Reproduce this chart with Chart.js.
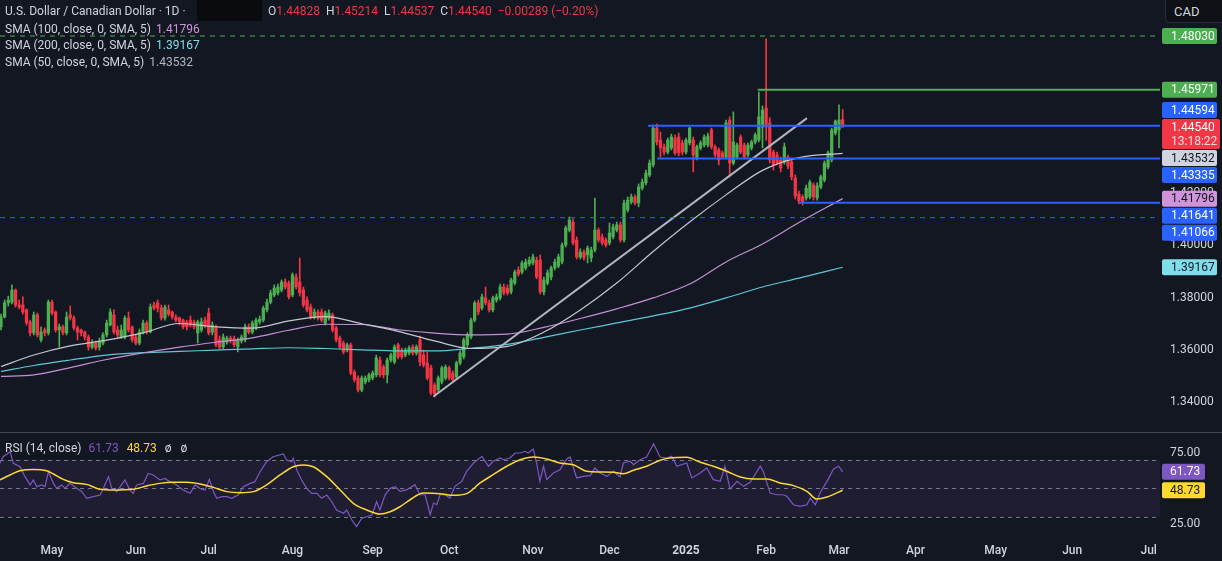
<!DOCTYPE html>
<html lang="en">
<head>
  <meta charset="UTF-8" />
  <title>USD/CAD 1D</title>
  <script src="https://cdn.jsdelivr.net/npm/chart.js"></script>
  <style>
    body { margin: 0; background: #131722; font-family: Roboto, sans-serif; }
    .wrap { position: relative; width: 1222px; height: 561px; overflow: hidden; background: #131722; }
    canvas { position: absolute; left: 0; }
    #priceChart { top: 0; }
    #rsiChart { top: 433px; }
    .sep { position: absolute; left: 0; top: 432px; width: 1222px; height: 1px; background: #434651; }
    .lg { position: absolute; left: 5px; font-size: 12px; line-height: 16px; color: #d1d4dc; white-space: nowrap; }
    .lg span.v { margin-left: 5px; }
    .red { color: #f23645; }
    .ohlc { position: absolute; left: 268px; top: 3px; font-size: 12px; line-height: 16px; color: #d1d4dc; white-space: nowrap; }
    .ohlc b { font-weight: normal; margin-right: 6px; }
    .blk { position: absolute; left: 197px; top: 0; width: 65px; height: 21px; background: #0a0b0e; }
    .cad { position: absolute; left: 1165px; top: -1px; width: 60px; height: 24px; box-sizing: border-box;
           border: 1px solid #2a2e39; border-radius: 0 0 0 4px; background: #0e1015;
           color: #d1d4dc; font-size: 13px; line-height: 23px; padding-left: 8px; }
  </style>
</head>
<body>
<div class="wrap">
  <canvas id="priceChart" width="1222" height="432"></canvas>
  <div class="sep"></div>
  <canvas id="rsiChart" width="1222" height="128"></canvas>

  <div class="lg" style="top:3px">U.S. Dollar / Canadian Dollar · 1D ·</div>
  <div class="blk"></div>
  <div class="ohlc">
    <b>O<span class="red">1.44828</span></b><b>H<span class="red">1.45214</span></b><b>L<span class="red">1.44537</span></b><b>C<span class="red">1.44540</span></b><b class="red">−0.00289 (−0.20%)</b>
  </div>
  <div class="lg" style="top:20.5px">SMA (100, close, 0, SMA, 5)<span class="v" style="color:#ce93d8">1.41796</span></div>
  <div class="lg" style="top:37px">SMA (200, close, 0, SMA, 5)<span class="v" style="color:#80deea">1.39167</span></div>
  <div class="lg" style="top:53.5px">SMA (50, close, 0, SMA, 5)<span class="v" style="color:#b2b5be">1.43532</span></div>
  <div class="lg" style="top:440px">RSI (14, close)<span class="v" style="color:#7e57c2;margin-left:7px">61.73</span><span class="v" style="color:#fdd835;margin-left:8px">48.73</span><span class="v" style="margin-left:8px">ø</span><span class="v" style="margin-left:9px">ø</span></div>
  <div class="cad">CAD</div>
</div>

<script>
// ---- data (bar index 0 = 1 May 2024, daily bars, Dec 25 / Jan 1 skipped) ----
const BAR0 = -14;
const X_MIN = -14.27, X_MAX = 304.1;

const opens = [
  1.3688, 1.3726, 1.3780, 1.3783, 1.3829, 1.3772, 1.3772, 1.3753, 1.3707, 1.3665,
  1.3734, 1.3638, 1.3676, 1.3665, 1.3783, 1.3745, 1.3676, 1.3688, 1.3665, 1.3734,
  1.3722, 1.3684, 1.3676, 1.3668, 1.3649, 1.3611, 1.3626, 1.3611, 1.3626, 1.3657,
  1.3695, 1.3734, 1.3676, 1.3645, 1.3649, 1.3722, 1.3688, 1.3649, 1.3626, 1.3668,
  1.3703, 1.3668, 1.3772, 1.3780, 1.3760, 1.3722, 1.3753, 1.3745, 1.3726, 1.3722,
  1.3714, 1.3707, 1.3714, 1.3707, 1.3665, 1.3676, 1.3714, 1.3741, 1.3668, 1.3684,
  1.3638, 1.3611, 1.3630, 1.3645, 1.3642, 1.3611, 1.3634, 1.3638, 1.3688, 1.3668,
  1.3684, 1.3707, 1.3714, 1.3753, 1.3783, 1.3810, 1.3818, 1.3829, 1.3860, 1.3856,
  1.3810, 1.3879, 1.3860, 1.3829, 1.3791, 1.3764, 1.3726, 1.3745, 1.3745, 1.3703,
  1.3722, 1.3734, 1.3684, 1.3645, 1.3626, 1.3599, 1.3619, 1.3515, 1.3492, 1.3446,
  1.3477, 1.3485, 1.3492, 1.3504, 1.3561, 1.3534, 1.3504, 1.3561, 1.3554, 1.3619,
  1.3599, 1.3580, 1.3588, 1.3611, 1.3588, 1.3638, 1.3580, 1.3550, 1.3531, 1.3465,
  1.3446, 1.3477, 1.3492, 1.3531, 1.3511, 1.3496, 1.3550, 1.3573, 1.3619, 1.3649,
  1.3714, 1.3780, 1.3760, 1.3799, 1.3780, 1.3753, 1.3791, 1.3799, 1.3841, 1.3837,
  1.3822, 1.3856, 1.3906, 1.3898, 1.3914, 1.3929, 1.3933, 1.3944, 1.3944, 1.3822,
  1.3856, 1.3879, 1.3914, 1.3921, 1.3937, 1.4002, 1.4059, 1.4090, 1.4021, 1.3956,
  1.3975, 1.3964, 1.3952, 1.3983, 1.4059, 1.4033, 1.4021, 1.4010, 1.4033, 1.4059,
  1.4079, 1.4021, 1.4136, 1.4167, 1.4186, 1.4163, 1.4220, 1.4240, 1.4270, 1.4309,
  1.4450, 1.4404, 1.4378, 1.4358, 1.4374, 1.4412, 1.4416, 1.4393, 1.4358, 1.4393,
  1.4404, 1.4335, 1.4374, 1.4385, 1.4385, 1.4443, 1.4378, 1.4366, 1.4355, 1.4339,
  1.4481, 1.4316, 1.4339, 1.4416, 1.4385, 1.4347, 1.4374, 1.4397, 1.4404, 1.4454,
  1.4527, 1.4470, 1.4358, 1.4347, 1.4328, 1.4320, 1.4339, 1.4320, 1.4259, 1.4197,
  1.4186, 1.4182, 1.4186, 1.4232, 1.4182, 1.4224, 1.4251, 1.4301, 1.4328, 1.4431,
  1.4443, 1.44828
];
const highs = [
  1.3737, 1.3791, 1.3806, 1.3849, 1.3833, 1.3791, 1.3803, 1.3757, 1.3714, 1.3745,
  1.3741, 1.3688, 1.3684, 1.3791, 1.3791, 1.3749, 1.3699, 1.3695, 1.3745, 1.3768,
  1.3730, 1.3691, 1.3680, 1.3672, 1.3657, 1.3638, 1.3634, 1.3645, 1.3665, 1.3714,
  1.3757, 1.3753, 1.3691, 1.3695, 1.3730, 1.3745, 1.3691, 1.3657, 1.3680, 1.3714,
  1.3711, 1.3776, 1.3783, 1.3791, 1.3772, 1.3772, 1.3772, 1.3749, 1.3734, 1.3726,
  1.3718, 1.3714, 1.3730, 1.3714, 1.3714, 1.3722, 1.3726, 1.3760, 1.3707, 1.3695,
  1.3653, 1.3661, 1.3653, 1.3653, 1.3653, 1.3645, 1.3657, 1.3699, 1.3699, 1.3711,
  1.3722, 1.3730, 1.3768, 1.3795, 1.3829, 1.3849, 1.3852, 1.3868, 1.3872, 1.3864,
  1.3895, 1.3891, 1.3952, 1.3841, 1.3803, 1.3776, 1.3757, 1.3753, 1.3757, 1.3749,
  1.3753, 1.3741, 1.3691, 1.3653, 1.3634, 1.3626, 1.3626, 1.3523, 1.3500, 1.3500,
  1.3500, 1.3511, 1.3519, 1.3580, 1.3573, 1.3542, 1.3569, 1.3588, 1.3619, 1.3626,
  1.3607, 1.3607, 1.3615, 1.3619, 1.3619, 1.3653, 1.3599, 1.3592, 1.3542, 1.3473,
  1.3500, 1.3538, 1.3542, 1.3538, 1.3519, 1.3557, 1.3596, 1.3645, 1.3665, 1.3722,
  1.3787, 1.3791, 1.3814, 1.3841, 1.3791, 1.3806, 1.3814, 1.3852, 1.3852, 1.3849,
  1.3875, 1.3906, 1.3918, 1.3941, 1.3948, 1.3956, 1.3967, 1.3956, 1.3964, 1.3879,
  1.3906, 1.3921, 1.3948, 1.3967, 1.4010, 1.4075, 1.4109, 1.4102, 1.4033, 1.3987,
  1.3983, 1.3998, 1.3994, 1.4182, 1.4067, 1.4044, 1.4029, 1.4086, 1.4082, 1.4090,
  1.4090, 1.4174, 1.4186, 1.4197, 1.4194, 1.4236, 1.4255, 1.4289, 1.4328, 1.4462,
  1.4466, 1.4435, 1.4389, 1.4412, 1.4427, 1.4424, 1.4431, 1.4404, 1.4412, 1.4454,
  1.4416, 1.4385, 1.4401, 1.4424, 1.4431, 1.4450, 1.4385, 1.4374, 1.4362, 1.4481,
  1.4493, 1.4512, 1.4393, 1.4424, 1.4393, 1.4393, 1.4404, 1.4431, 1.4588, 1.4535,
  1.4792, 1.4490, 1.4366, 1.4358, 1.4339, 1.4393, 1.4347, 1.4335, 1.4270, 1.4209,
  1.4194, 1.4232, 1.4251, 1.4240, 1.4240, 1.4270, 1.4324, 1.4362, 1.4450, 1.4481,
  1.4539, 1.45214
];
const lows = [
  1.3676, 1.3722, 1.3768, 1.3776, 1.3764, 1.3757, 1.3737, 1.3695, 1.3653, 1.3657,
  1.3649, 1.3630, 1.3653, 1.3657, 1.3734, 1.3668, 1.3611, 1.3657, 1.3657, 1.3714,
  1.3676, 1.3638, 1.3653, 1.3638, 1.3599, 1.3603, 1.3599, 1.3599, 1.3619, 1.3649,
  1.3691, 1.3661, 1.3645, 1.3645, 1.3642, 1.3668, 1.3630, 1.3619, 1.3619, 1.3661,
  1.3661, 1.3665, 1.3753, 1.3745, 1.3714, 1.3714, 1.3730, 1.3718, 1.3707, 1.3695,
  1.3680, 1.3676, 1.3688, 1.3680, 1.3626, 1.3668, 1.3684, 1.3657, 1.3657, 1.3611,
  1.3603, 1.3603, 1.3622, 1.3626, 1.3611, 1.3592, 1.3626, 1.3630, 1.3661, 1.3661,
  1.3676, 1.3699, 1.3707, 1.3745, 1.3776, 1.3803, 1.3810, 1.3822, 1.3833, 1.3795,
  1.3803, 1.3833, 1.3806, 1.3764, 1.3745, 1.3718, 1.3718, 1.3714, 1.3707, 1.3695,
  1.3714, 1.3668, 1.3630, 1.3603, 1.3584, 1.3592, 1.3504, 1.3477, 1.3439, 1.3439,
  1.3469, 1.3477, 1.3485, 1.3496, 1.3496, 1.3492, 1.3473, 1.3554, 1.3546, 1.3565,
  1.3565, 1.3573, 1.3580, 1.3580, 1.3580, 1.3538, 1.3534, 1.3485, 1.3427, 1.3419,
  1.3439, 1.3469, 1.3485, 1.3485, 1.3477, 1.3488, 1.3542, 1.3565, 1.3611, 1.3642,
  1.3707, 1.3734, 1.3753, 1.3772, 1.3745, 1.3745, 1.3783, 1.3791, 1.3810, 1.3810,
  1.3814, 1.3849, 1.3883, 1.3891, 1.3906, 1.3921, 1.3925, 1.3872, 1.3814, 1.3810,
  1.3849, 1.3868, 1.3906, 1.3914, 1.3929, 1.3994, 1.4052, 1.4002, 1.3948, 1.3948,
  1.3944, 1.3933, 1.3937, 1.3975, 1.4013, 1.4002, 1.3994, 1.4002, 1.4025, 1.4052,
  1.4013, 1.4013, 1.4128, 1.4159, 1.4155, 1.4148, 1.4213, 1.4232, 1.4263, 1.4301,
  1.4385, 1.4339, 1.4347, 1.4351, 1.4366, 1.4347, 1.4343, 1.4347, 1.4351, 1.4385,
  1.4282, 1.4328, 1.4366, 1.4378, 1.4378, 1.4370, 1.4339, 1.4309, 1.4332, 1.4332,
  1.4263, 1.4309, 1.4332, 1.4351, 1.4332, 1.4339, 1.4366, 1.4389, 1.4397, 1.4374,
  1.4404, 1.4316, 1.4289, 1.4309, 1.4282, 1.4312, 1.4293, 1.4251, 1.4178, 1.4159,
  1.4155, 1.4174, 1.4178, 1.4174, 1.4174, 1.4217, 1.4243, 1.4293, 1.4320, 1.4424,
  1.4374, 1.44537
];
const closes = [
  1.3726, 1.3780, 1.3791, 1.3829, 1.3772, 1.3764, 1.3745, 1.3703, 1.3665, 1.3734,
  1.3657, 1.3668, 1.3665, 1.3783, 1.3741, 1.3676, 1.3688, 1.3665, 1.3726, 1.3722,
  1.3684, 1.3668, 1.3665, 1.3649, 1.3611, 1.3626, 1.3607, 1.3630, 1.3657, 1.3703,
  1.3745, 1.3668, 1.3657, 1.3676, 1.3722, 1.3676, 1.3638, 1.3626, 1.3668, 1.3703,
  1.3668, 1.3764, 1.3760, 1.3760, 1.3722, 1.3764, 1.3737, 1.3726, 1.3714, 1.3707,
  1.3688, 1.3688, 1.3695, 1.3688, 1.3707, 1.3707, 1.3695, 1.3665, 1.3695, 1.3619,
  1.3611, 1.3649, 1.3645, 1.3638, 1.3619, 1.3638, 1.3649, 1.3688, 1.3668, 1.3703,
  1.3714, 1.3718, 1.3760, 1.3783, 1.3818, 1.3837, 1.3841, 1.3860, 1.3841, 1.3803,
  1.3887, 1.3841, 1.3818, 1.3772, 1.3753, 1.3726, 1.3745, 1.3722, 1.3714, 1.3741,
  1.3741, 1.3676, 1.3638, 1.3611, 1.3592, 1.3619, 1.3511, 1.3485, 1.3446, 1.3492,
  1.3492, 1.3504, 1.3511, 1.3569, 1.3504, 1.3504, 1.3561, 1.3580, 1.3611, 1.3573,
  1.3573, 1.3599, 1.3607, 1.3588, 1.3611, 1.3554, 1.3542, 1.3492, 1.3435, 1.3431,
  1.3492, 1.3531, 1.3534, 1.3492, 1.3485, 1.3550, 1.3588, 1.3638, 1.3657, 1.3714,
  1.3780, 1.3745, 1.3803, 1.3780, 1.3753, 1.3799, 1.3803, 1.3841, 1.3818, 1.3818,
  1.3868, 1.3898, 1.3891, 1.3933, 1.3937, 1.3944, 1.3956, 1.3879, 1.3822, 1.3868,
  1.3895, 1.3914, 1.3937, 1.3956, 1.4002, 1.4067, 1.4098, 1.4010, 1.3956, 1.3975,
  1.3952, 1.3990, 1.3983, 1.4059, 1.4021, 1.4010, 1.4002, 1.4048, 1.4071, 1.4079,
  1.4021, 1.4163, 1.4174, 1.4186, 1.4163, 1.4224, 1.4243, 1.4278, 1.4316, 1.4450,
  1.4397, 1.4374, 1.4358, 1.4404, 1.4416, 1.4355, 1.4355, 1.4358, 1.4404, 1.4450,
  1.4347, 1.4378, 1.4393, 1.4416, 1.4420, 1.4378, 1.4347, 1.4328, 1.4339, 1.4470,
  1.4316, 1.4397, 1.4385, 1.4358, 1.4339, 1.4385, 1.4397, 1.4424, 1.4493, 1.4519,
  1.4454, 1.4328, 1.4309, 1.4316, 1.4297, 1.4378, 1.4305, 1.4263, 1.4190, 1.4171,
  1.4167, 1.4220, 1.4243, 1.4186, 1.4228, 1.4263, 1.4316, 1.4355, 1.4443, 1.4477,
  1.4481, 1.44540
];

// moving averages every ~10 bars
const smaX   = [-14, -5, 5, 15, 25, 35, 45, 55, 65, 75, 85, 95, 105, 115, 125, 135, 145, 155, 165, 175, 185, 195, 205, 217];
const sma50  = [1.3536, 1.3580, 1.3615, 1.3637, 1.3665, 1.3701, 1.3688, 1.3683, 1.3711, 1.3727, 1.3700, 1.3671,
                1.3634, 1.3605, 1.3613, 1.3668, 1.3753, 1.3856, 1.3977, 1.4090, 1.4194, 1.4288, 1.4337, 1.43532];
const sma100 = [1.3498, 1.3504, 1.3532, 1.3563, 1.3588, 1.3610, 1.3629, 1.3646, 1.3675, 1.3698, 1.3697, 1.3677,
                1.3664, 1.3657, 1.3660, 1.3686, 1.3720, 1.3757, 1.3799, 1.3852, 1.3937, 1.4006, 1.4088, 1.41796];
const sma200 = [1.3517, 1.3540, 1.3561, 1.3580, 1.3589, 1.3594, 1.3599, 1.3604, 1.3608, 1.3605, 1.3600, 1.3596,
                1.3596, 1.3606, 1.3621, 1.3648, 1.3676, 1.3703, 1.3730, 1.3760, 1.3799, 1.3841, 1.3875, 1.39167];

// drawings
const levelValues = [1.48030, 1.45971, 1.44594, 1.43335, 1.41641, 1.41066];
const levelStarts = [X_MIN, 193.7, 163.6, 166.1, 205.1, X_MIN];
const trendX = [104.7, 207.2];
const trendY = [1.3421, 1.4488];

const rsiX = [-14.3, -13.4, -11.5, -10.6, -8.8, -7.4, -6.0, -5.1, -4.2, -2.8, -1.9, -1.0, 0.4, 1.3, 2.7, 3.6, 4.9, 6.8, 8.2, 9.5,
  11.3, 13.2, 14.1, 15.5, 16.4, 17.8, 20.0, 21.4, 22.3, 23.2, 25.1, 26.4, 27.8, 29.6, 31.0, 32.4, 34.2, 36.0, 37.9, 39.3,
  40.6, 42.0, 43.2, 44.3, 45.2, 46.6, 48.0, 49.3, 50.2, 51.1, 52.5, 54.4, 55.7, 57.1, 58.9, 60.7, 63.5, 64.4, 65.8, 66.2,
  67.2, 68.5, 69.9, 71.3, 72.7, 74.0, 75.4, 76.8, 78.1, 80.0, 80.9, 82.3, 83.6, 85.0, 86.4, 87.8, 89.1, 90.0, 91.4, 92.8,
  94.2, 95.5, 97.4, 99.6, 101.0, 102.4, 103.8, 104.7, 105.6, 106.5, 107.9, 109.2, 110.6, 112.5, 113.8, 115.7, 118.0, 119.8, 121.1, 123.0,
  123.9, 125.7, 127.1, 128.5, 129.8, 130.7, 132.1, 133.0, 133.9, 134.9, 135.8, 137.6, 139.4, 141.3, 142.2, 144.0, 145.8, 147.7, 149.0, 150.4,
  152.3, 154.1, 155.9, 156.8, 158.7, 159.6, 161.4, 163.2, 165.1, 166.9, 168.7, 170.1, 171.5, 174.2, 175.6, 177.9, 179.7, 181.5, 183.4, 184.7,
  186.1, 188.0, 189.8, 191.6, 194.4, 195.2, 197.1, 198.9, 200.7, 201.7, 203.5, 205.3, 207.2, 208.1, 209.5, 210.8, 212.7, 214.5, 215.9, 217];
const rsiVal = [67.7, 72.3, 75.8, 67.7, 65.3, 58.3, 52.5, 56.0, 51.3, 52.5, 51.3, 61.8, 53.6, 50.1, 52.5, 50.1, 53.6, 50.1, 47.8, 43.1,
  44.3, 45.4, 50.1, 58.3, 50.1, 47.8, 56.0, 48.9, 46.6, 52.5, 53.6, 60.6, 59.5, 56.0, 57.1, 54.8, 52.5, 48.9, 46.6, 52.5,
  50.1, 48.9, 56.4, 47.8, 43.1, 44.3, 44.3, 43.1, 44.3, 45.4, 51.3, 53.6, 54.8, 61.8, 68.8, 72.3, 74.2, 70.0, 68.8, 71.2,
  63.0, 56.0, 50.1, 46.6, 46.6, 43.1, 45.4, 40.7, 34.9, 32.6, 34.9, 27.9, 23.2, 29.1, 30.2, 31.4, 40.7, 34.9, 45.4, 50.1,
  51.3, 48.0, 49.2, 52.7, 45.6, 45.6, 31.6, 39.8, 38.6, 45.6, 45.6, 43.3, 51.5, 55.0, 62.1, 67.9, 72.6, 65.6, 69.1, 71.4,
  70.2, 71.4, 74.9, 74.9, 76.1, 74.9, 77.7, 67.9, 55.0, 65.6, 56.2, 60.9, 63.2, 70.7, 72.1, 57.4, 58.5, 59.0, 64.4, 60.9,
  58.5, 62.1, 58.1, 67.9, 69.1, 66.7, 70.2, 72.1, 81.4, 72.1, 71.4, 72.6, 65.6, 67.9, 57.4, 60.9, 64.4, 56.2, 55.0, 65.6,
  49.7, 55.0, 51.5, 54.3, 65.6, 62.1, 46.8, 45.6, 45.6, 44.5, 38.6, 37.5, 38.6, 43.3, 38.6, 46.8, 55.0, 63.7, 65.6, 61.73];
const maX = [-14.3, -11.5, -8.8, -5.1, -1.5, 0.4, 3.1, 5.8, 9.5, 13.2, 16.8, 22.3, 26.0, 29.6, 33.3, 37.0, 40.6, 44.3, 48.0, 51.6,
  55.3, 58.9, 62.6, 66.2, 69.0, 71.7, 75.4, 79.1, 82.7, 86.4, 90.0, 92.8, 95.5, 98.3, 101.9, 106.5, 110.2, 113.8, 117.5, 121.1,
  124.8, 128.5, 132.1, 135.8, 139.4, 143.1, 146.8, 150.4, 154.1, 156.8, 159.6, 163.2, 166.9, 169.6, 174.2, 177.9, 181.5, 185.2, 188.9, 192.5,
  196.2, 199.8, 203.5, 207.2, 209.9, 212.7, 217];
const maVal = [56.0, 59.5, 62.5, 63.4, 62.5, 60.2, 56.4, 54.1, 52.9, 49.4, 48.9, 49.4, 51.8, 53.6, 54.3, 54.3, 53.2, 50.8, 47.8, 47.1,
  47.8, 52.5, 59.5, 65.3, 66.5, 65.3, 58.3, 48.9, 39.6, 34.9, 32.1, 33.7, 37.2, 42.1, 46.8, 46.4, 45.2, 46.4, 53.9, 59.7,
  65.6, 70.2, 72.1, 70.7, 67.9, 66.7, 62.1, 61.6, 61.4, 60.4, 62.8, 65.6, 69.8, 71.4, 71.9, 68.4, 65.6, 62.1, 58.1, 56.7,
  56.7, 53.9, 52.0, 48.0, 42.6, 44.0, 48.73];

// axes
const priceTicks = [1.34, 1.36, 1.38, 1.40, 1.42, 1.44, 1.46, 1.48];
const rsiTicks = [25, 75];
const rsiLevels = [70, 50, 30];
const monthIdx = [0, 23, 43, 66, 88, 109, 132, 153, 174, 196, 216, 237, 259, 280, 301];
const monthLabels = ['May', 'Jun', 'Jul', 'Aug', 'Sep', 'Oct', 'Nov', 'Dec', '2025', 'Feb', 'Mar', 'Apr', 'May', 'Jun', 'Jul'];
const countdown = '13:18:22';

// ---- styles ----
const UP = '#4caf50', DOWN = '#f23645', BLUE = '#2962ff', GREEN = '#4caf50';
const TEXT = '#d1d4dc';
const LEVEL_STYLE = [
  { color: GREEN, dash: [5, 5], width: 1 },
  { color: GREEN, dash: [], width: 2 },
  { color: BLUE, dash: [], width: 2 },
  { color: BLUE, dash: [], width: 2 },
  { color: BLUE, dash: [], width: 2 },
  { color: BLUE, dash: [5, 5], width: 1 }
];

Chart.defaults.font.family = 'Roboto, sans-serif';
Chart.defaults.color = TEXT;

const candleColor = c => closes[c.dataIndex] >= opens[c.dataIndex] ? UP : DOWN;
const pts = (xs, ys) => xs.map((x, i) => ({ x: x, y: ys[i] }));
const last = a => a[a.length - 1];

const levelSets = levelValues.map((v, i) => ({
  type: 'line',
  data: [{ x: levelStarts[i], y: v }, { x: X_MAX, y: v }],
  borderColor: LEVEL_STYLE[i].color,
  borderWidth: LEVEL_STYLE[i].width,
  borderDash: LEVEL_STYLE[i].dash,
  pointRadius: 0
}));

function smaSet(ys, color) {
  return {
    type: 'line', data: pts(smaX, ys), borderColor: color, borderWidth: 1.2,
    pointRadius: 0, cubicInterpolationMode: 'monotone'
  };
}

// price tags on the right axis (TradingView style, pushed apart around the last price)
const tagsPlugin = {
  id: 'tags',
  afterDraw(chart) {
    const { ctx, scales: { y } } = chart;
    const tags = [
      { v: levelValues[0], bg: GREEN, fg: '#fff' },
      { v: levelValues[1], bg: GREEN, fg: '#fff' },
      { v: levelValues[2], bg: BLUE, fg: '#fff' },
      { v: last(closes), bg: DOWN, fg: '#fff', anchor: true },
      { v: last(sma50), bg: '#d1d4dc', fg: '#131722' },
      { v: levelValues[3], bg: BLUE, fg: '#fff' },
      { v: last(sma100), bg: '#ce93d8', fg: '#131722' },
      { v: levelValues[4], bg: BLUE, fg: '#fff' },
      { v: levelValues[5], bg: BLUE, fg: '#fff' },
      { v: last(sma200), bg: '#80deea', fg: '#131722' }
    ];
    tags.forEach(t => { t.h = t.anchor ? 30 : 16; t.top = y.getPixelForValue(t.v) - 8; });
    tags.sort((a, b) => a.top - b.top);
    const ai = tags.findIndex(t => t.anchor);
    for (let k = ai - 1; k >= 0; k--) {
      const lim = tags[k + 1].top - 1;
      if (tags[k].top + tags[k].h > lim) tags[k].top = lim - tags[k].h;
    }
    for (let k = ai + 1; k < tags.length; k++) {
      const lim = tags[k - 1].top + tags[k - 1].h + 1;
      if (tags[k].top < lim) tags[k].top = lim;
    }
    ctx.save();
    ctx.font = '12px Roboto, sans-serif';
    ctx.textBaseline = 'middle';
    tags.forEach(t => {
      const w = t.anchor ? 58 : 55;
      ctx.fillStyle = t.bg;
      ctx.beginPath();
      ctx.roundRect(1162, t.top, w, t.h, 2);
      ctx.fill();
      ctx.fillStyle = t.fg;
      ctx.fillText(t.v.toFixed(5), 1171, t.top + 8.5);
      if (t.anchor) {
        ctx.fillStyle = 'rgba(255,255,255,0.82)';
        ctx.fillText(countdown, 1171, t.top + 22.5);
      }
    });
    ctx.restore();
  }
};

new Chart(document.getElementById('priceChart'), {
  type: 'bar',
  data: {
    datasets: [
      ...levelSets,
      { type: 'line', data: pts(trendX, trendY), borderColor: '#b2b5be', borderWidth: 2, pointRadius: 0 },
      smaSet(sma50, '#c4c7cf'),
      smaSet(sma100, '#c48fd6'),
      smaSet(sma200, '#5cc8d6'),
      {
        data: opens.map((o, k) => ({ x: BAR0 + k, y: [o, closes[k]] })),
        backgroundColor: candleColor, barThickness: 2.6, minBarLength: 1, grouped: false, borderWidth: 0
      },
      {
        data: lows.map((l, k) => ({ x: BAR0 + k, y: [l, highs[k]] })),
        backgroundColor: candleColor, barThickness: 1, grouped: false, borderWidth: 0
      }
    ]
  },
  options: {
    responsive: false,
    animation: false,
    events: [],
    layout: { padding: 0 },
    plugins: { legend: { display: false }, tooltip: { enabled: false } },
    scales: {
      x: { type: 'linear', min: X_MIN, max: X_MAX, offset: false, display: false },
      y: {
        position: 'right', min: 1.3285, max: 1.4941, beginAtZero: false,
        grid: { display: false, drawTicks: false }, border: { display: false },
        afterBuildTicks: s => { s.ticks = priceTicks.map(v => ({ value: v })); },
        afterFit: s => { s.width = 62; s.paddingTop = 0; s.paddingBottom = 0; },
        ticks: { color: TEXT, font: { size: 12 }, padding: 10, callback: v => v.toFixed(5) }
      }
    }
  },
  plugins: [tagsPlugin]
});

// ---- RSI pane ----
const rsiBands = {
  id: 'rsiBands',
  beforeDatasetsDraw(chart) {
    const { ctx, chartArea: a, scales: { y } } = chart;
    const top = y.getPixelForValue(rsiLevels[0]), bot = y.getPixelForValue(rsiLevels[2]);
    ctx.save();
    ctx.fillStyle = 'rgba(126,87,194,0.1)';
    ctx.fillRect(a.left, top, a.right - a.left, bot - top);
    ctx.strokeStyle = '#787b86';
    ctx.lineWidth = 1;
    ctx.setLineDash([4, 4]);
    rsiLevels.forEach(v => {
      const py = Math.round(y.getPixelForValue(v)) + 0.5;
      ctx.beginPath(); ctx.moveTo(a.left, py); ctx.lineTo(a.right, py); ctx.stroke();
    });
    ctx.restore();
  },
  afterDraw(chart) {
    const { ctx, scales: { y } } = chart;
    const tags = [{ v: last(rsiVal), bg: '#7e57c2', fg: '#fff' }, { v: last(maVal), bg: '#fdd835', fg: '#131722' }];
    ctx.save();
    ctx.font = '12px Roboto, sans-serif';
    ctx.textBaseline = 'middle';
    tags.forEach(t => {
      const top = y.getPixelForValue(t.v) - 8;
      ctx.fillStyle = t.bg;
      ctx.beginPath(); ctx.roundRect(1162, top, 43, 16, 2); ctx.fill();
      ctx.fillStyle = t.fg;
      ctx.fillText(t.v.toFixed(2), 1170, top + 8.5);
    });
    ctx.restore();
  }
};

new Chart(document.getElementById('rsiChart'), {
  type: 'line',
  data: {
    datasets: [
      { data: pts(maX, maVal), borderColor: '#fdd835', borderWidth: 1.5, pointRadius: 0, cubicInterpolationMode: 'monotone' },
      { data: pts(rsiX, rsiVal), borderColor: '#7e57c2', borderWidth: 1.2, pointRadius: 0, tension: 0 }
    ]
  },
  options: {
    responsive: false,
    animation: false,
    events: [],
    layout: { padding: 0 },
    plugins: { legend: { display: false }, tooltip: { enabled: false } },
    scales: {
      x: {
        type: 'linear', min: X_MIN, max: X_MAX, offset: false,
        grid: { display: false, drawTicks: false }, border: { display: false },
        afterBuildTicks: s => { s.ticks = monthIdx.map(v => ({ value: v })); },
        afterFit: s => { s.height = 24; s.paddingLeft = 0; s.paddingRight = 0; },
        ticks: {
          autoSkip: false, maxRotation: 0, minRotation: 0, padding: 7, color: TEXT,
          font: c => ({ size: 12, weight: c.index === 8 ? 'bold' : '500' }),
          callback: (v, i) => monthLabels[i]
        }
      },
      y: {
        position: 'right', min: 15.96, max: 88.95,
        grid: { display: false, drawTicks: false }, border: { display: false },
        afterBuildTicks: s => { s.ticks = rsiTicks.map(v => ({ value: v })); },
        afterFit: s => { s.width = 62; s.paddingTop = 0; s.paddingBottom = 0; },
        ticks: { color: TEXT, font: { size: 12 }, padding: 10, callback: v => v.toFixed(2) }
      }
    }
  },
  plugins: [rsiBands]
});
</script>
</body>
</html>
